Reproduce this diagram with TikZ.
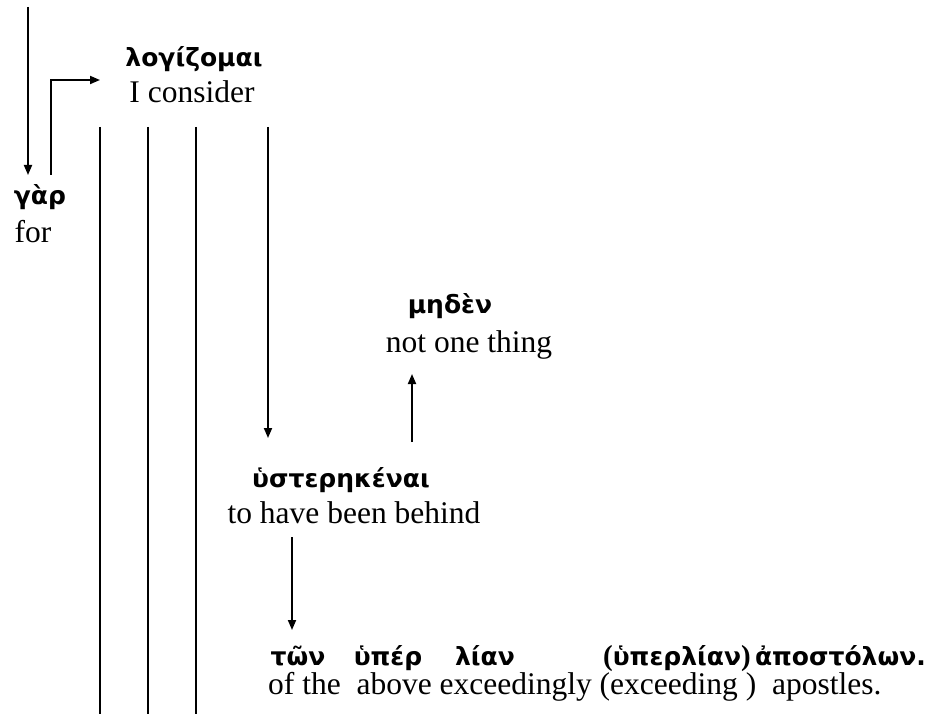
\documentclass[tikz,border=0pt]{standalone}
\usepackage{fontspec}
\setmainfont{Liberation Serif}
\newfontfamily\grk{DejaVu Sans}
\usetikzlibrary{arrows.meta}
\newcommand{\bparen}[1]{{\rmfamily\fontsize{29}{29}\selectfont #1}}
\begin{document}
\begin{tikzpicture}[x=1pt,y=-1pt,
  ln/.style={line width=1.8pt},
  arr/.style={ln,-{Triangle[length=10pt,width=8pt]}},
  gk/.style={font=\grk\bfseries\fontsize{25}{29}\selectfont, inner sep=0pt, anchor=base},
  en/.style={font=\fontsize{31.5}{36}\selectfont, inner sep=0pt, anchor=base}]
\useasboundingbox (0,0) rectangle (932,714);
% text nodes
\node[gk] (logiz) at (194,67) {λογίζομαι};
\node[en] (consider) at (192,103) {I consider};
\node[gk] (gar) at (40,205) {γὰρ};
\node[en] (for) at (33,243) {for};
\node[gk] (meden) at (450,313) {μηδὲν};
\node[en] (notone) at (469,352) {not one thing};
\node[gk] (huster) at (341,487) {ὑστερηκέναι};
\node[en] (behind) at (354,523) {to have been behind};
\node[gk] (ton) at (298,665) {τῶν};
\node[gk] (huper) at (388,665) {ὑπέρ};
\node[gk] (lian) at (485,665) {λίαν};
\node[gk, anchor=base west] (huperlian) at (603,665) {\bparen{(}ὑπερλίαν\bparen{)}};
\node[gk, anchor=base east] (apost) at (926,665) {ἀποστόλων.};
\node[en, anchor=base west] (gloss) at (268,694) {of the\ \ above exceedingly (exceeding )\ \ apostles.};
% connector end points
\coordinate (a1s) at (28,7);
\coordinate (a1e) at (28,175);
\coordinate (a2s) at (51,175);
\coordinate (a2e) at (100,80);
\coordinate (v1t) at (100,127); \coordinate (v1b) at (100,714);
\coordinate (v2t) at (148,127); \coordinate (v2b) at (148,714);
\coordinate (v3t) at (196,127); \coordinate (v3b) at (196,714);
\coordinate (v4t) at (268,127); \coordinate (v4b) at (268,438);
\coordinate (ups) at (412,442); \coordinate (upe) at (412,374);
\coordinate (dns) at (292,537); \coordinate (dne) at (292,630);
% connectors
\draw[arr] (a1s) -- (a1e);
\draw[arr] (a2s) |- (a2e);
\draw[ln] (v1t) -- (v1b);
\draw[ln] (v2t) -- (v2b);
\draw[ln] (v3t) -- (v3b);
\draw[arr] (v4t) -- (v4b);
\draw[arr] (ups) -- (upe);
\draw[arr] (dns) -- (dne);
\end{tikzpicture}
\end{document}
